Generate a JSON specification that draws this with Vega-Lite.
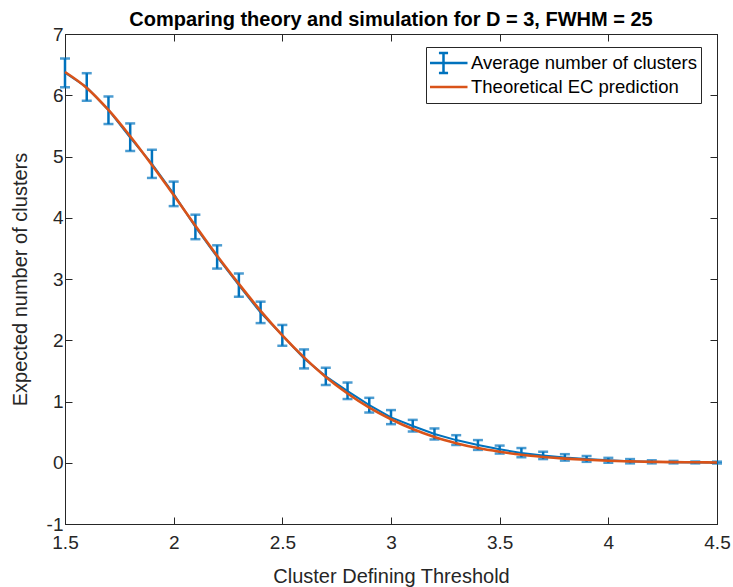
{
  "$schema": "https://vega.github.io/schema/vega-lite/v6.json",
  "width": 652,
  "height": 490,
  "autosize": "none",
  "padding": {"left": 65, "top": 34, "right": 16, "bottom": 63},
  "background": "white",
  "config": {"view": {"stroke": "#262626", "strokeWidth": 1}, "font": "Liberation Sans"},
  "title": {"text": "Comparing theory and simulation for D = 3, FWHM = 25", "fontSize": 20, "fontWeight": "bold", "font": "Liberation Sans", "color": "black", "anchor": "middle", "offset": -5},
  "datasets": {
    "sim": [
      {"t": 1.5, "mean": 6.37, "lo": 6.13, "hi": 6.6},
      {"t": 1.6, "mean": 6.13, "lo": 5.91, "hi": 6.36},
      {"t": 1.7, "mean": 5.76, "lo": 5.53, "hi": 5.98},
      {"t": 1.8, "mean": 5.31, "lo": 5.09, "hi": 5.54},
      {"t": 1.9, "mean": 4.88, "lo": 4.65, "hi": 5.11},
      {"t": 2.0, "mean": 4.39, "lo": 4.19, "hi": 4.59},
      {"t": 2.1, "mean": 3.85, "lo": 3.65, "hi": 4.05},
      {"t": 2.2, "mean": 3.36, "lo": 3.17, "hi": 3.55},
      {"t": 2.3, "mean": 2.9, "lo": 2.71, "hi": 3.09},
      {"t": 2.4, "mean": 2.45, "lo": 2.28, "hi": 2.63},
      {"t": 2.5, "mean": 2.08, "lo": 1.91, "hi": 2.25},
      {"t": 2.6, "mean": 1.7, "lo": 1.54, "hi": 1.85},
      {"t": 2.7, "mean": 1.41, "lo": 1.27, "hi": 1.55},
      {"t": 2.8, "mean": 1.17, "lo": 1.04, "hi": 1.31},
      {"t": 2.9, "mean": 0.94, "lo": 0.82, "hi": 1.06},
      {"t": 3.0, "mean": 0.74, "lo": 0.63, "hi": 0.86},
      {"t": 3.1, "mean": 0.6, "lo": 0.51, "hi": 0.7},
      {"t": 3.2, "mean": 0.47, "lo": 0.38, "hi": 0.56},
      {"t": 3.3, "mean": 0.37, "lo": 0.29, "hi": 0.45},
      {"t": 3.4, "mean": 0.29, "lo": 0.21, "hi": 0.37},
      {"t": 3.5, "mean": 0.22, "lo": 0.15, "hi": 0.28},
      {"t": 3.6, "mean": 0.16, "lo": 0.09, "hi": 0.24},
      {"t": 3.7, "mean": 0.12, "lo": 0.06, "hi": 0.18},
      {"t": 3.8, "mean": 0.085, "lo": 0.035, "hi": 0.14},
      {"t": 3.9, "mean": 0.06, "lo": 0.015, "hi": 0.11},
      {"t": 4.0, "mean": 0.04, "lo": 0.0, "hi": 0.08},
      {"t": 4.1, "mean": 0.025, "lo": -0.01, "hi": 0.06},
      {"t": 4.2, "mean": 0.015, "lo": -0.01, "hi": 0.04},
      {"t": 4.3, "mean": 0.01, "lo": -0.01, "hi": 0.03},
      {"t": 4.4, "mean": 0.005, "lo": -0.01, "hi": 0.02},
      {"t": 4.5, "mean": 0.003, "lo": -0.012, "hi": 0.018}
    ],
    "theory": [
      {"t": 1.5, "ec": 6.38}, {"t": 1.6, "ec": 6.12}, {"t": 1.7, "ec": 5.76}, {"t": 1.8, "ec": 5.33},
      {"t": 1.9, "ec": 4.86}, {"t": 2.0, "ec": 4.37}, {"t": 2.1, "ec": 3.87}, {"t": 2.2, "ec": 3.38},
      {"t": 2.3, "ec": 2.92}, {"t": 2.4, "ec": 2.48}, {"t": 2.5, "ec": 2.08}, {"t": 2.6, "ec": 1.72},
      {"t": 2.7, "ec": 1.4}, {"t": 2.8, "ec": 1.13}, {"t": 2.9, "ec": 0.9}, {"t": 3.0, "ec": 0.71},
      {"t": 3.1, "ec": 0.55}, {"t": 3.2, "ec": 0.42}, {"t": 3.3, "ec": 0.32}, {"t": 3.4, "ec": 0.24},
      {"t": 3.5, "ec": 0.18}, {"t": 3.6, "ec": 0.13}, {"t": 3.7, "ec": 0.095}, {"t": 3.8, "ec": 0.068},
      {"t": 3.9, "ec": 0.048}, {"t": 4.0, "ec": 0.033}, {"t": 4.1, "ec": 0.023}, {"t": 4.2, "ec": 0.015},
      {"t": 4.3, "ec": 0.01}, {"t": 4.4, "ec": 0.007}, {"t": 4.5, "ec": 0.004}
    ]
  },
  "layer": [
    {
      "data": {"name": "sim"},
      "mark": {"type": "rule", "strokeWidth": 2.5},
      "encoding": {
        "x": {"field": "t", "type": "quantitative", "scale": {"domain": [1.5, 4.5], "nice": false, "zero": false},
          "axis": {"orient": "bottom", "values": [1.5, 2, 2.5, 3, 3.5, 4, 4.5], "labelExpr": "'' + datum.value", "grid": false,
            "tickSize": -7, "labelPadding": 16, "labelFontSize": 19, "labelColor": "#262626", "labelFont": "Liberation Sans",
            "domainColor": "#262626", "tickColor": "#262626", "labelFlush": false,
            "title": "Cluster Defining Threshold", "titleFontSize": 20, "titleFontWeight": "normal", "titleColor": "#262626", "titleFont": "Liberation Sans", "titlePadding": 14}},
        "y": {"field": "lo", "type": "quantitative", "scale": {"domain": [-1, 7], "nice": false, "zero": false},
          "axis": {"orient": "left", "values": [-1, 0, 1, 2, 3, 4, 5, 6, 7], "labelExpr": "'' + datum.value", "grid": false,
            "tickSize": -7, "labelPadding": 9, "labelFontSize": 19, "labelColor": "#262626", "labelFont": "Liberation Sans",
            "domainColor": "#262626", "tickColor": "#262626",
            "title": "Expected number of clusters", "titleFontSize": 20, "titleFontWeight": "normal", "titleColor": "#262626", "titleFont": "Liberation Sans", "titlePadding": 16}},
        "y2": {"field": "hi"},
        "color": {"datum": "Average number of clusters", "type": "nominal",
          "scale": {"domain": ["Average number of clusters", "Theoretical EC prediction"], "range": ["#0072BD", "#D95319"]},
          "legend": {"title": null, "orient": "none", "legendX": 361, "legendY": 13, "strokeColor": "#262626", "fillColor": "white",
            "padding": 4, "labelFontSize": 18.5, "labelFont": "Liberation Sans", "labelColor": "black", "labelLimit": 400, "symbolSize": 576,
            "symbolStrokeWidth": 2.5, "labelOffset": 14, "rowPadding": 0, "clipHeight": 24,
            "encode": {"symbols": {"update": {"shape": {"signal": "datum.value == 'Average number of clusters' ? 'M-2,0H2M0,-0.84V0.84M-0.38,-0.84H0.38M-0.38,0.84H0.38' : 'M-2,0H2'"}, "fill": {"value": "transparent"}}}}}}
      }
    },
    {
      "data": {"name": "sim"},
      "mark": {"type": "tick", "orient": "horizontal", "thickness": 2.5, "size": 10},
      "encoding": {
        "x": {"field": "t", "type": "quantitative", "axis": null},
        "y": {"field": "lo", "type": "quantitative", "axis": null},
        "color": {"datum": "Average number of clusters", "type": "nominal"}
      }
    },
    {
      "data": {"name": "sim"},
      "mark": {"type": "tick", "orient": "horizontal", "thickness": 2.5, "size": 10},
      "encoding": {
        "x": {"field": "t", "type": "quantitative", "axis": null},
        "y": {"field": "hi", "type": "quantitative", "axis": null},
        "color": {"datum": "Average number of clusters", "type": "nominal"}
      }
    },
    {
      "data": {"name": "sim"},
      "mark": {"type": "line", "strokeWidth": 2},
      "encoding": {
        "x": {"field": "t", "type": "quantitative", "axis": null},
        "y": {"field": "mean", "type": "quantitative", "axis": null},
        "color": {"datum": "Average number of clusters", "type": "nominal"}
      }
    },
    {
      "data": {"name": "theory"},
      "mark": {"type": "line", "strokeWidth": 2.6, "interpolate": "monotone"},
      "encoding": {
        "x": {"field": "t", "type": "quantitative",
          "axis": {"orient": "top", "values": [1.5, 2, 2.5, 3, 3.5, 4, 4.5], "labels": false, "grid": false, "tickSize": -7, "domainColor": "#262626", "tickColor": "#262626", "title": null}},
        "y": {"field": "ec", "type": "quantitative",
          "axis": {"orient": "right", "values": [-1, 0, 1, 2, 3, 4, 5, 6, 7], "labels": false, "grid": false, "tickSize": -7, "domainColor": "#262626", "tickColor": "#262626", "title": null}},
        "color": {"datum": "Theoretical EC prediction", "type": "nominal"}
      }
    }
  ],
  "resolve": {"axis": {"x": "independent", "y": "independent"}}
}
